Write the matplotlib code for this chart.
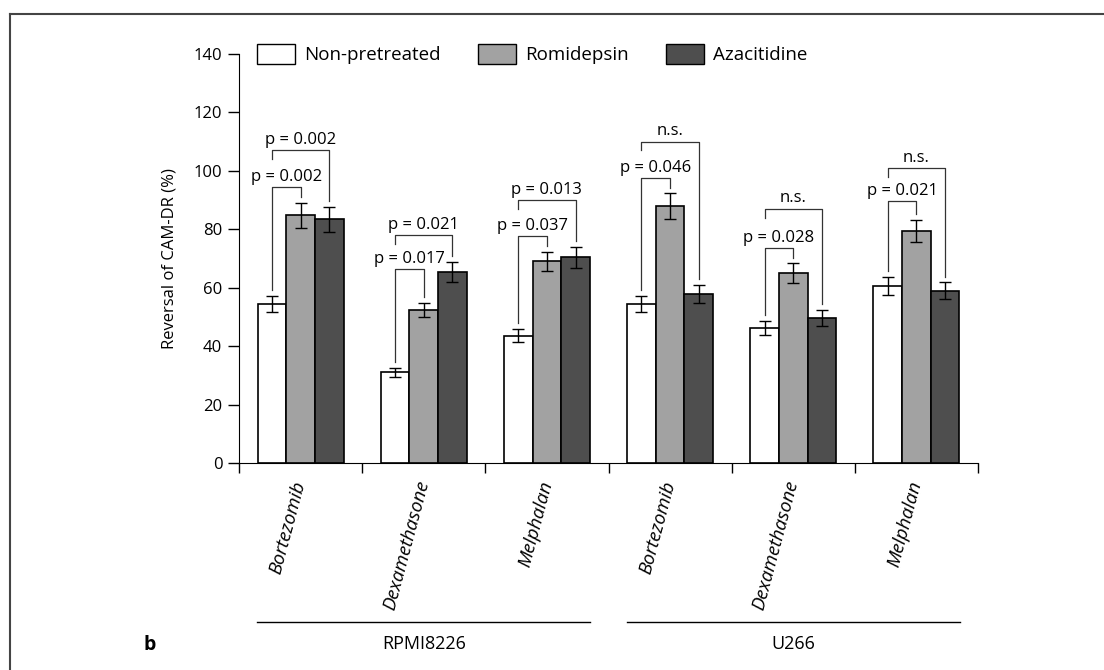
import matplotlib
matplotlib.use("Agg")
import matplotlib.pyplot as plt
import matplotlib.transforms as mtransforms
from matplotlib.patches import Patch
import numpy as np

plt.rcParams["font.family"] = ["Open Sans", "DejaVu Sans"]

drugs = ["Bortezomib", "Dexamethasone", "Melphalan",
         "Bortezomib", "Dexamethasone", "Melphalan"]
cell_lines = ["RPMI8226", "U266"]

nonpre = [54.5, 31.0, 43.6, 54.5, 46.3, 60.6]
nonpre_err = [2.7, 1.5, 2.2, 2.8, 2.4, 3.0]
romi = [84.8, 52.4, 69.0, 87.9, 65.0, 79.4]
romi_err = [4.3, 2.5, 3.3, 4.4, 3.3, 3.9]
aza = [83.4, 65.4, 70.5, 57.9, 49.7, 58.9]
aza_err = [4.3, 3.4, 3.6, 3.0, 2.7, 2.9]

# significance brackets: non-pretreated vs romidepsin (inner), vs azacitidine (outer)
inner_h = [94.4, 66.4, 77.7, 97.4, 73.6, 89.6]
inner_txt = ["p = 0.002", "p = 0.017", "p = 0.037", "p = 0.046", "p = 0.028", "p = 0.021"]
outer_h = [107, 78, 90, 110, 87, 101]
outer_txt = ["p = 0.002", "p = 0.021", "p = 0.013", "n.s.", "n.s.", "n.s."]

c_white = "white"
c_grey = "#a2a2a2"
c_dark = "#4e4e4e"

fig = plt.figure(figsize=(11.04, 6.70), dpi=100)
ax = fig.add_axes([239 / 1104, 1 - 463 / 670, (978 - 239) / 1104, (463 - 54) / 670])

x = np.arange(len(drugs))
w = 0.233
ekw = dict(ecolor="black", elinewidth=1.0, capsize=4, capthick=1.0)
ax.bar(x - w, nonpre, w, yerr=nonpre_err, color=c_white, edgecolor="black", linewidth=1.2, error_kw=ekw)
ax.bar(x, romi, w, yerr=romi_err, color=c_grey, edgecolor="black", linewidth=1.2, error_kw=ekw)
ax.bar(x + w, aza, w, yerr=aza_err, color=c_dark, edgecolor="black", linewidth=1.2, error_kw=ekw)

gap = 2.0
lc = "#333333"
for i in range(len(drugs)):
    xl, xm, xr = x[i] - w, x[i], x[i] + w
    # inner bracket
    h = inner_h[i]
    ax.plot([xl, xl, xm, xm],
            [nonpre[i] + nonpre_err[i] + gap, h, h, romi[i] + romi_err[i] + gap],
            color=lc, lw=0.9)
    ax.text((xl + xm) / 2, h + 0.8, inner_txt[i], ha="center", va="bottom", fontsize=12)
    # outer bracket
    h = outer_h[i]
    ax.plot([xl, xl, xr, xr],
            [h - 3, h, h, aza[i] + aza_err[i] + gap],
            color=lc, lw=0.9)
    ax.text((xl + xr) / 2, h + 0.8, outer_txt[i], ha="center", va="bottom", fontsize=12)

ax.set_xlim(-0.5, 5.5)
ax.set_ylim(0, 140)
ax.set_yticks(np.arange(0, 141, 20))
ax.spines["top"].set_visible(False)
ax.spines["right"].set_visible(False)
ax.tick_params(axis="y", length=8, width=1, pad=4, labelsize=12)
ax.set_xticks(x)
ax.set_xticklabels(drugs, rotation=75, ha="right", va="center",
                   rotation_mode="anchor", style="italic", fontsize=13.5)
ax.tick_params(axis="x", which="major", length=0, pad=13)
ax.set_xticks(np.arange(-0.5, 5.6, 1), minor=True)
ax.tick_params(axis="x", which="minor", length=7, width=1)
ax.set_ylabel("Reversal of CAM-DR (%)", fontsize=12, labelpad=12)

# cell line group labels
trans = mtransforms.blended_transform_factory(ax.transData, fig.transFigure)
for g, name in enumerate(cell_lines):
    x0, x1 = 3 * g - 0.35, 3 * g + 2.35
    ax.plot([x0, x1], [1 - 622 / 670] * 2, transform=trans, color="black",
            lw=1.0, clip_on=False)
    ax.text(3 * g + 1, 1 - 644 / 670, name, transform=trans, ha="center",
            va="center", fontsize=13)

fig.text(150 / 1104, 1 - 645 / 670, "b", fontsize=14, fontweight="bold",
         ha="center", va="center")

handles = [Patch(facecolor=c, edgecolor="black", linewidth=1.0) for c in (c_white, c_grey, c_dark)]
fig.legend(handles, ["Non-pretreated", "Romidepsin", "Azacitidine"],
           loc="upper left", bbox_to_anchor=(257 / 1104, 1 - 44 / 670), ncol=3,
           frameon=False, fontsize=13.5, handlelength=2.05, handleheight=1.25,
           handletextpad=0.45, columnspacing=2.0, borderpad=0, borderaxespad=0)

# frame lines of the figure panel
fig.add_artist(plt.Line2D([10 / 1104, 1], [1 - 14 / 670] * 2, color="#444444", lw=1.5))
fig.add_artist(plt.Line2D([10 / 1104] * 2, [0, 1 - 14 / 670], color="#444444", lw=1.5))

fig.savefig("out.png", dpi=100)
